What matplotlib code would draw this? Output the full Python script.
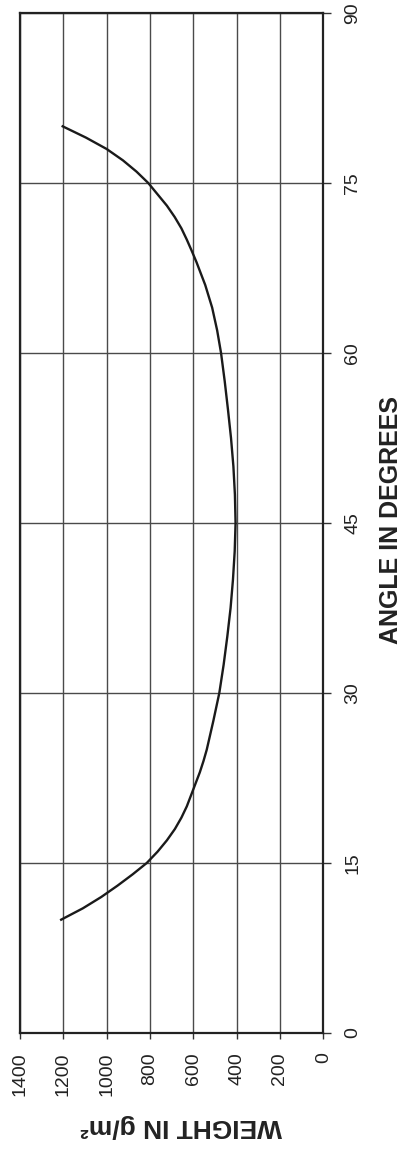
import matplotlib
matplotlib.use("Agg")
import matplotlib.pyplot as plt

plt.rcParams['font.family'] = ['Liberation Sans', 'DejaVu Sans']

# Data (angle in degrees, weight in g/m^2)
angles = [10, 11, 12, 13, 14, 15, 16, 17, 18, 19, 20, 21, 22, 23, 24, 25, 27.5, 30,
          32.5, 35, 37.5, 40, 42.5, 45, 47.5, 50, 52.5, 55, 57.5, 60, 62, 64, 66,
          68, 69, 70, 71, 72, 73, 74, 75, 76, 77, 78, 79, 80]
weights = [1210, 1110, 1025, 950, 880, 815, 765, 722, 685, 655, 630, 610, 590, 570, 553, 538, 508, 480,
           460, 443, 428, 417, 409, 405, 408, 415, 426, 440, 455, 472, 490, 513, 545,
           585, 607, 630, 655, 686, 722, 765, 808, 862, 925, 1000, 1095, 1203]

angle_ticks = [0, 15, 30, 45, 60, 75, 90]
weight_ticks = [0, 200, 400, 600, 800, 1000, 1200, 1400]

W, H = 407, 1150
fig = plt.figure(figsize=(W / 100, H / 100), dpi=100)
ax = fig.add_axes([20 / W, 117 / H, 303.3 / W, 1020 / H])

ax.plot(weights, angles, color='#1a1a1a', lw=1.7, zorder=3)

ax.set_xlim(1400, 0)
ax.set_ylim(0, 90)
ax.set_xticks(weight_ticks)
ax.set_yticks(angle_ticks)
ax.set_xticklabels([str(v) for v in weight_ticks], rotation=90, fontsize=14, color='#222')
ax.set_yticklabels([str(v) for v in angle_ticks], rotation=90, fontsize=14, color='#222', va='center')

ax.yaxis.tick_right()
ax.tick_params(axis='y', direction='out', length=6, width=1, color='#333', pad=9)
ax.tick_params(axis='x', direction='out', length=4, width=1, color='#333', pad=10)

ax.grid(True, color='#4a4a4a', lw=1.0, zorder=1)
ax.set_axisbelow(True)
for s in ax.spines.values():
    s.set_linewidth(1.6)
    s.set_color('#222')

fig.text(391 / W, 1 - 520 / H, 'ANGLE IN DEGREES', rotation=90, ha='center', va='center',
         fontsize=18, fontweight='bold', color='#222')
fig.text(181 / W, 1 - 1126 / H, 'WEIGHT IN g/m²', rotation=180, ha='center', va='center',
         fontsize=19, fontweight='bold', color='#222')

fig.savefig('out.png', dpi=100, facecolor='white')
